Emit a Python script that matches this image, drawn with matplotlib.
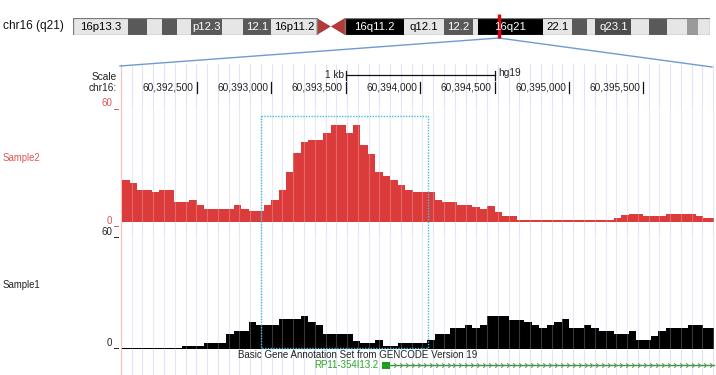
import numpy as np
import matplotlib.pyplot as plt
from matplotlib.path import Path
from matplotlib.patches import Rectangle
from matplotlib.transforms import blended_transform_factory

plt.rcParams['font.family'] = ['Liberation Sans', 'DejaVu Sans']

# ---- chr16 ideogram (hg19, Mb) ----
chrom_len = 90.354753
band_start = [0, 7.9, 10.5, 12.6, 14.8, 16.8, 21.2, 24.2, 28.1, 34.6, 36.6, 38.6, 47.0,
              52.6, 56.7, 57.4, 66.7, 70.8, 72.9, 74.1, 79.2, 81.7, 84.2, 87.1, 88.7]
band_stain = ['gneg', 'gpos50', 'gneg', 'gpos50', 'gneg', 'gpos50', 'gneg', 'gpos50', 'gneg',
              'acen', 'acen', 'gvar', 'gneg', 'gpos50', 'gneg', 'gpos100', 'gneg', 'gpos50',
              'gneg', 'gpos75', 'gneg', 'gpos50', 'gneg', 'gpos25', 'gneg']
band_label = ['16p13.3', '', '', '', '', 'p12.3', '', '12.1', '16p11.2', '', '', '16q11.2',
              'q12.1', '12.2', '', '16q21', '22.1', '', '', 'q23.1', '', '', '', '', '']
view_mb = 60.394

# ---- browser window ----
view_start, view_end = 60391985, 60395974
ruler_ticks = [60392500, 60393000, 60393500, 60394000, 60394500, 60395000, 60395500]
scale_bar = [60393500, 60394500]
highlight = [60392930, 60394055]

# ---- signal tracks (50 bp bins from 60,392,000) ----
bin_start = 60392000
bin_size = 50
sample2 = [21.9, 20.6, 17, 17, 15.75, 17, 17, 10.5, 10.5, 11.7, 9.1, 7, 7, 7, 7, 9.1, 7, 5.6,
           5.6, 9.1, 11.7, 17, 26, 35.9, 41.7, 43.2, 43.2, 46.4, 50.75, 50.75, 46.4, 50.75,
           40.25, 35.5, 26.25, 24, 21.9, 19.25, 17, 15.75, 15.75, 15.75, 11.7, 10.5, 10.5,
           9.1, 9.1, 7.9, 6.65, 8.2, 5.25, 3, 3, 0.9, 0.9, 0.9, 0.9, 0.9, 0.9, 0.9, 0.9, 0.9,
           0.9, 0.9, 0.9, 0.9, 2.3, 3.5, 4.4, 4.4, 3, 3, 3, 4.4, 4.4, 4.4, 4.4, 3, 2.3, 2.3]
sample1 = [0.4, 0.4, 0.4, 0.4, 0.4, 0.4, 0.4, 0.4, 1.4, 1.4, 1.4, 3, 3, 3, 7.8, 9, 9, 13.9,
           12.2, 12.2, 12.2, 15.65, 15.65, 15.65, 17.4, 13.9, 12.2, 7.8, 7.8, 7.8, 7.8, 4, 3,
           3, 4.35, 1.4, 1.4, 3, 3, 3, 3, 4.35, 7.8, 7.8, 11, 11, 12.5, 11, 12.5, 17.4, 17.4,
           17.4, 15.3, 15.3, 13.9, 12.5, 11, 12.5, 13.9, 15.65, 10.8, 10.8, 12.5, 10.8, 9, 9,
           7.8, 7.8, 9.4, 4.35, 4.35, 6.4, 9, 10.8, 10.8, 10.8, 12.5, 12.5, 10.8, 10.8]

# ---- gene annotation ----
gene_name = 'RP11-354I13.2'
gene_start, gene_end = 60393742, 60396500
exon = [60393742, 60393798]

W, H = 716, 375
fig = plt.figure(figsize=(W / 100, H / 100), dpi=100)


def px_axes(x0, y0, x1, y1):
    return fig.add_axes([x0 / W, 1 - y1 / H, (x1 - x0) / W, (y1 - y0) / H])


base = fig.add_axes([0, 0, 1, 1], zorder=0)
base.set_xlim(0, W)
base.set_ylim(H, 0)
base.axis('off')

# ---- ideogram ----
stain_color = {'gneg': '#e6e6e6', 'gpos25': '#9a9a9a', 'gpos50': '#595959',
               'gpos75': '#4c4c4c', 'gpos100': '#000000', 'gvar': '#000000'}
ideo = px_axes(72.7, 18, 710, 35)
ideo.set_zorder(3)
ideo.set_xlim(0, chrom_len)
ideo.set_ylim(0, 1)
ideo.axis('off')
band_end = band_start[1:] + [chrom_len]
for s, e, st, lab in zip(band_start, band_end, band_stain, band_label):
    if st == 'acen':
        continue
    ideo.add_patch(Rectangle((s, 0), e - s, 1, color=stain_color[st], lw=0))
    if lab:
        tc = 'white' if st in ('gpos50', 'gpos75', 'gpos100', 'gvar') else 'black'
        ideo.text((s + e) / 2, 0.48, lab, ha='center', va='center', fontsize=8.2, color=tc)
cen = [s for s, st in zip(band_start, band_stain) if st == 'acen']
ideo.fill([cen[0], cen[1], cen[0]], [0, 0.5, 1], color='#b23a3a', lw=0)
ideo.fill([band_start[11], cen[1], band_start[11]], [0, 0.5, 1], color='#b23a3a', lw=0)
ideo.add_patch(Rectangle((0, 0), cen[0], 1, fill=False, ec='#7a7a7a', lw=0.9))
ideo.add_patch(Rectangle((band_start[11], 0), chrom_len - band_start[11], 1, fill=False,
                         ec='#7a7a7a', lw=0.9))
ideo.plot([view_mb, view_mb], [-0.2, 1.22], color='#e8000b', lw=2.4, clip_on=False,
          solid_capstyle='butt')
base.text(3, 26.5, 'chr16 (q21)', ha='left', va='center', fontsize=8.6, color='#111')

# ---- tracks ----
track_x0, track_x1 = 120, 714
ax2 = px_axes(track_x0, 107.5, track_x1, 222)
ax1 = px_axes(track_x0, 235, track_x1, 348.5)
edges = bin_start + bin_size * np.arange(len(sample2) + 1)
for ax, vals, col in [(ax2, sample2, '#dc3b3b'), (ax1, sample1, '#000000')]:
    ax.set_zorder(1)
    ax.set_facecolor('none')
    ax.set_xlim(view_start, view_end)
    ax.set_ylim(0, 60)
    ax.axis('off')
    ax.stairs(vals, edges, fill=True, color=col, lw=0)

blend = blended_transform_factory(ax2.transData, base.transData)

# guidelines
grid_px = 120.9 + 10.77 * np.arange(1, 56)
base.vlines(grid_px, 64, H, color='#e3e3f7', lw=0.8, zorder=0)
base.vlines(120.5, 64, H, color='#f5c6c6', lw=0.9, zorder=0)
over = fig.add_axes([0, 0, 1, 1], zorder=2)
over.set_xlim(0, W)
over.set_ylim(H, 0)
over.axis('off')
over.vlines(grid_px, 108, 222, color='white', alpha=0.22, lw=0.8)
over.vlines(grid_px, 235, 348.5, color='white', alpha=0.22, lw=0.8)

# zoom lines from ideogram
mx = base.transData.inverted().transform(ideo.transData.transform((view_mb, 0)))[0]
base.plot([mx, track_x0], [38, 66], color='#6f9bd1', lw=1.0)
base.plot([mx, track_x1 - 2], [38, 67], color='#6f9bd1', lw=1.0)

# ---- ruler ----
txt = '#222222'
base.text(117, 77, 'Scale', ha='right', va='center', fontsize=7.3, color=txt)
base.text(117, 88, 'chr16:', ha='right', va='center', fontsize=7.3, color=txt)
for t in ruler_ticks:
    base.plot([t, t], [82, 92.5], color='#111', lw=0.9, transform=blend)
    base.annotate(f'{t:,}', xy=(t, 87.5), xycoords=blend, xytext=(-2.2, 0),
                  textcoords='offset points', ha='right', va='center', fontsize=7.3, color=txt)
base.plot(scale_bar, [75, 75], color='#111', lw=0.9, transform=blend)
for t in scale_bar:
    base.plot([t, t], [70.5, 79.5], color='#111', lw=0.9, transform=blend)
base.annotate('1 kb', xy=(scale_bar[0], 75), xycoords=blend, xytext=(-1.5, 0),
              textcoords='offset points', ha='right', va='center', fontsize=7.3, color=txt)
base.annotate('hg19', xy=(scale_bar[1], 73), xycoords=blend, xytext=(3, 0),
              textcoords='offset points', ha='left', va='center', fontsize=7.3, color=txt)

# ---- track labels and y scales ----
red = '#e05555'
base.text(2.7, 157.7, 'Sample2', ha='left', va='center', fontsize=6.9, color=red)
base.text(2.7, 285, 'Sample1', ha='left', va='center', fontsize=6.9, color='#222')
for lab, y, tick, col in [('60', 103.5, 108.5, red), ('0', 221.5, 225.5, red),
                          ('60', 232.3, 236.7, '#222'), ('0', 343.3, 348, '#222')]:
    base.text(112, y, lab, ha='right', va='center', fontsize=7, color=col)
    base.plot([113.5, 118], [tick, tick], color=col, lw=0.7)

# ---- highlight box ----
hx = [highlight[0], highlight[1], highlight[1], highlight[0], highlight[0]]
hy = [115.7, 115.7, 348.3, 348.3, 115.7]
over.plot(hx, hy, transform=blended_transform_factory(ax2.transData, over.transData),
          color='#3fbfe0', lw=1.0, ls=(0, (1, 1)))

# ---- gene track ----
base.annotate('Basic Gene Annotation Set from GENCODE Version 19', xy=(0.5, 355.5),
              xycoords=blended_transform_factory(base.transAxes, base.transData),
              xytext=(0, 0), textcoords='offset points', ha='center', va='center',
              fontsize=7, color='#222')
base.plot([gene_start, min(gene_end, view_end)], [365, 365], color='#2e9e2e', lw=1.0,
          transform=blend)
base.add_patch(Rectangle((exon[0], 362), exon[1] - exon[0], 6.5, color='#1f9a1f', lw=0,
                         transform=blend))
chev = Path([(-1, 1), (0, 0), (-1, -1)], [Path.MOVETO, Path.LINETO, Path.LINETO])
arrows = np.arange(exon[1] + 40, view_end - 10, 40)
base.plot(arrows, np.full(len(arrows), 365), ls='none', marker=chev, ms=3.2, mew=0.8,
          mfc='none', mec='#6d8f6d', transform=blend)
base.annotate(gene_name, xy=(exon[0], 365.5), xycoords=blend, xytext=(-2.5, 0),
              textcoords='offset points', ha='right', va='center', fontsize=7,
              color='#2aa52a')

fig.savefig('out.png', dpi=100)
